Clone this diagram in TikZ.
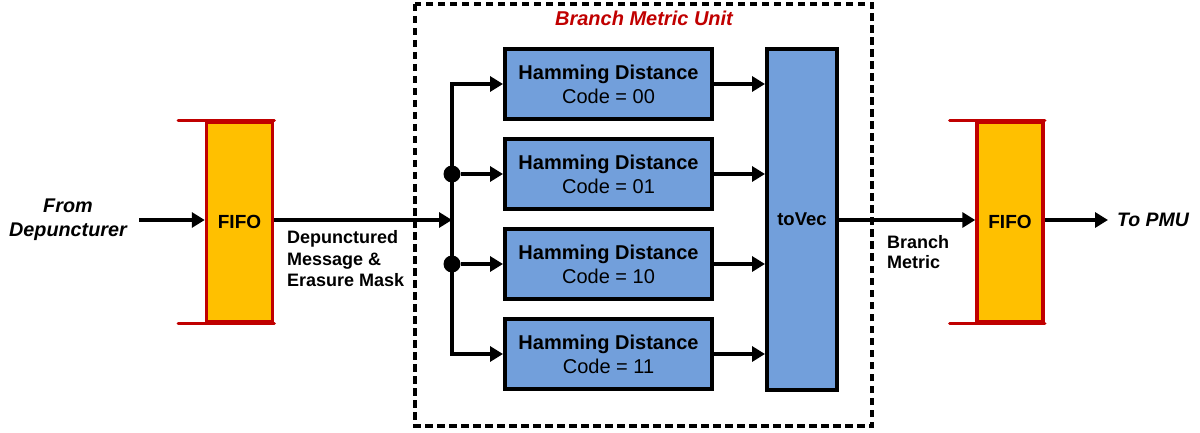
\documentclass[tikz,border=0pt]{standalone}
\usepackage{fontspec}
\setmainfont{Liberation Sans}
\usetikzlibrary{arrows.meta}
\definecolor{fifofill}{RGB}{255,192,0}
\definecolor{fifoedge}{RGB}{192,0,0}
\definecolor{hdfill}{RGB}{114,159,219}
\definecolor{titlered}{RGB}{192,0,0}
\begin{document}
\begin{tikzpicture}[x=1pt,y=-1pt,
  hdbox/.style={draw=black, line width=4pt, fill=hdfill, minimum width=207pt,
    minimum height=70pt, align=center, inner sep=0pt, font=\fontsize{20}{24}\selectfont},
  vecbox/.style={draw=black, line width=4pt, fill=hdfill, minimum width=70pt,
    minimum height=341pt, inner sep=0pt, font=\bfseries\fontsize{18.5}{20}\selectfont},
  fifobox/.style={draw=fifoedge, line width=3.5pt, fill=fifofill, minimum width=66pt,
    minimum height=199pt, inner sep=0pt, font=\bfseries\fontsize{19}{20}\selectfont},
  rim/.style={draw=fifoedge, line width=3.5pt, line cap=round},
  wire/.style={line width=3.6pt},
  flow/.style={wire, -{Triangle[length=13pt,width=15pt]}},
  junction/.style={circle, fill=black, minimum size=17pt, inner sep=0pt},
  unitframe/.style={draw=black, line width=3.6pt, dash pattern=on 7.5pt off 4.5pt},
  note/.style={font=\bfseries\fontsize{18}{21.5}\selectfont, align=left, inner sep=0pt}
]
\useasboundingbox (0,0) rectangle (1200,433);

% Branch metric unit frame
\draw[unitframe] (415,4) rectangle (872,426);
\node[font=\bfseries\itshape\fontsize{20}{22}\selectfont, text=titlered] (title) at (644,18) {Branch Metric Unit};

% FIFOs
\node[fifobox] (fifoin) at (239.5,222) {FIFO};
\draw[rim] (fifoin.north east) -- ++(-96,0);
\draw[rim] (fifoin.south east) -- ++(-96,0);
\node[fifobox] (fifoout) at (1010,222) {FIFO};
\draw[rim] (fifoout.north east) -- ++(-95,0);
\draw[rim] (fifoout.south east) -- ++(-95,0);

% Hamming distance units
\node[hdbox] (hd00) at (608.5,84) {\textbf{Hamming Distance}\\Code = 00};
\node[hdbox] (hd01) at (608.5,174) {\textbf{Hamming Distance}\\Code = 01};
\node[hdbox] (hd10) at (608.5,264) {\textbf{Hamming Distance}\\Code = 10};
\node[hdbox] (hd11) at (608.5,354) {\textbf{Hamming Distance}\\Code = 11};

% Vector packer
\node[vecbox] (tovec) at (802,219.5) {toVec};

% Outer labels (base anchor sits on the last line)
\node[font=\bfseries\itshape\fontsize{19.8}{24}\selectfont, align=center] (src) at (68,220) {From\\Depuncturer};
\node[font=\bfseries\itshape\fontsize{19.5}{20}\selectfont, anchor=west, inner sep=0pt] (dst) at (1117,220) {To PMU};
\node[note, anchor=base west] (msg) at (287,286.5) {Depunctured\\Message \&\\Erasure Mask};
\node[note, anchor=base west, font=\bfseries\fontsize{18}{20}\selectfont] (bm) at (887,268.5) {Branch\\Metric};

% Fan-out bus
\coordinate (split) at (452,220);
\node[junction] (j01) at (452,174) {};
\node[junction] (j10) at (452,264) {};
\draw[flow] (139,220) coordinate (srcend) -- (fifoin.west |- srcend);
\draw[flow] (fifoin.east |- split) -- (split);
\draw[flow] (split) |- (hd00.west);
\draw[flow] (split) |- (hd11.west);
\draw[flow] (j01) -- (hd01.west);
\draw[flow] (j10) -- (hd10.west);

% Into toVec
\draw[flow] (hd00.east) -- (tovec.west |- hd00.east);
\draw[flow] (hd01.east) -- (tovec.west |- hd01.east);
\draw[flow] (hd10.east) -- (tovec.west |- hd10.east);
\draw[flow] (hd11.east) -- (tovec.west |- hd11.east);

% Out to the second FIFO and on
\draw[flow] (tovec.east |- split) -- (fifoout.west |- split);
\draw[flow] (fifoout.east |- split) -- ([xshift=-9pt]dst.west);
\end{tikzpicture}
\end{document}
